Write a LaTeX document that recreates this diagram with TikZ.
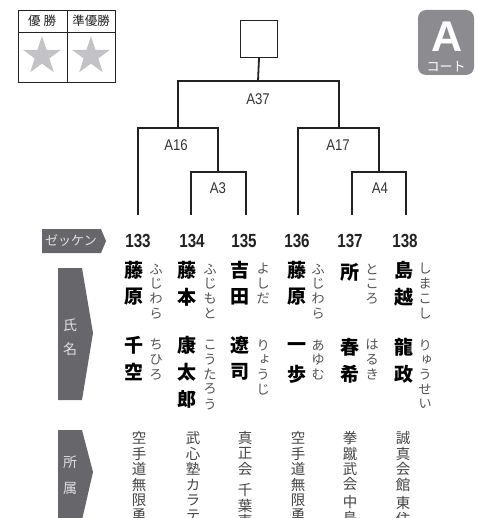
\documentclass[tikz,border=0pt]{standalone}
\usepackage{fontspec}
\setmainfont{Liberation Sans}
\newfontfamily\jpfont{Noto Sans CJK JP}
\newfontfamily\jpvert[RawFeature=+vert]{Noto Sans CJK JP}
\newfontfamily\numfont[FakeStretch=0.85]{Liberation Sans}
\newfontfamily\zekkenfont[FakeStretch=0.8]{Liberation Sans}
\usetikzlibrary{shapes.geometric}

\definecolor{lineblack}{HTML}{222222}
\definecolor{taggrey}{HTML}{67676B}
\definecolor{courtgrey}{HTML}{8C8C90}
\definecolor{stargrey}{HTML}{C3C3C7}
\definecolor{kanagrey}{HTML}{555555}
\definecolor{affgrey}{HTML}{444444}

\tikzset{
  bracket/.style={draw=lineblack,line width=1.8pt},
  matchlbl/.style={font=\numfont\fontsize{15.5}{15.5}\selectfont,text=black!80},
  zekken/.style={font=\zekkenfont\bfseries\fontsize{19}{19}\selectfont,text=lineblack},
  kanji/.style={font=\jpfont\bfseries\fontsize{19}{19}\selectfont,inner sep=0pt},
  kana/.style={font=\jpvert\fontsize{13.5}{13.5}\selectfont,text=kanagrey,inner sep=0pt},
  aff/.style={font=\jpvert\fontsize{14.5}{14.5}\selectfont,text=affgrey,inner sep=0pt},
  tagtext/.style={font=\jpfont\fontsize{14}{14}\selectfont,text=white!88!black},
  tagbox/.style={fill=taggrey,draw=none},
  legend/.style={font=\jpfont\fontsize{12.5}{12.5}\selectfont,text=lineblack}
}

% vertical column of characters: name, style, x, first y, pitch, list
\newcommand{\tate}[6]{%
  \foreach \ch [count=\i] in {#6}
    \node[#2] (#1-\i) at (#3,{#4+#5*(\i-1)}) {\ch};}

\begin{document}
\begin{tikzpicture}[x=1pt,y=-1pt]

\useasboundingbox (0,0) rectangle (477,518);

% Legend table
\draw[lineblack,line width=0.9pt] (18,10) rectangle (115,82);
\draw[lineblack,line width=0.9pt] (67,10) -- (67,82);
\draw[lineblack,line width=0.9pt] (18,32) -- (115,32);
\node[legend] (yusho) at (42,21) {優\hspace{3pt}勝};
\node[legend] (junyusho) at (91,21) {準優勝};
\node[star,star points=5,star point ratio=2.6,fill=stargrey,inner sep=0pt,minimum size=40] (star1) at (42,56) {};
\node[star,star points=5,star point ratio=2.6,fill=stargrey,inner sep=0pt,minimum size=40] (star2) at (91,56) {};

% Court badge
\node[fill=courtgrey,rounded corners=8pt,minimum width=56,minimum height=65] (court) at (446,42.5) {};
\node[font=\bfseries\fontsize{43}{43}\selectfont,text=white,inner sep=0pt] (courtA) at (447,36.5) {A};
\node[font=\jpfont\fontsize{13}{13}\selectfont,text=white,inner sep=0pt] (courtT) at (446,66.5) {コート};

% Winner box
\node[draw=lineblack,line width=1.4pt,minimum size=37,inner sep=0pt] (final) at (259,39) {};

% Bracket points
\coordinate (m37) at (258,81);
\coordinate (m16) at (178,128);
\coordinate (m17) at (339,128);
\coordinate (m3) at (218,172);
\coordinate (m4) at (379,172);
\coordinate (t133) at (138,215);
\coordinate (t134) at (191,215);
\coordinate (t135) at (246,215);
\coordinate (t136) at (298,215);
\coordinate (t137) at (352,215);
\coordinate (t138) at (406,215);

% Bracket lines
\draw[bracket] (final.south) -- (m37);
\draw[bracket] (m16) |- (m37) -| (m17);
\draw[bracket] (t133) |- (m16) -| (m3);
\draw[bracket] (t134) |- (m3) -| (t135);
\draw[bracket] (t136) |- (m17) -| (m4);
\draw[bracket] (t137) |- (m4) -| (t138);

% Match labels
\node[matchlbl] (a37) at (258,99) {A37};
\node[matchlbl] (a16) at (176,145) {A16};
\node[matchlbl] (a17) at (338,145) {A17};
\node[matchlbl] (a3) at (218,188) {A3};
\node[matchlbl] (a4) at (380,188) {A4};

% Zekken row
\draw[tagbox] (42,229) -- (101,229) -- (106,241) -- (101,253) -- (42,253) -- cycle;
\node[tagtext,font=\jpfont\fontsize{13}{13}\selectfont] (zekkenlbl) at (71,241) {ゼッケン};
\node[zekken] (z133) at (138,241) {133};
\node[zekken] (z134) at (192,241) {134};
\node[zekken] (z135) at (244,241) {135};
\node[zekken] (z136) at (297,241) {136};
\node[zekken] (z137) at (350,241) {137};
\node[zekken] (z138) at (405,241) {138};

% Name tag
\draw[tagbox] (58,268) -- (82,268) -- (93,333) -- (82,400) -- (58,400) -- cycle;
\node[tagtext] (shi) at (70,325) {氏};
\node[tagtext] (mei) at (70,349) {名};

% Names
\tate{n133}{kanji}{134}{270}{27}{藤,原}
\tate{g133}{kanji}{134}{345}{27}{千,空}
\tate{f133}{kana}{156}{269}{14.8}{ふ,じ,わ,ら}
\tate{h133}{kana}{156}{345}{14.8}{ち,ひ,ろ}

\tate{n134}{kanji}{187}{270}{27}{藤,本}
\tate{g134}{kanji}{187}{345}{27}{康,太,郎}
\tate{f134}{kana}{210}{269}{14.8}{ふ,じ,も,と}
\tate{h134}{kana}{210}{345}{14.8}{こ,う,た,ろ,う}

\tate{n135}{kanji}{240}{270}{27}{吉,田}
\tate{g135}{kanji}{240}{345}{27}{遼,司}
\tate{f135}{kana}{263}{269}{14.8}{よ,し,だ}
\tate{h135}{kana}{263}{345}{14.8}{り,ょ,う,じ}

\tate{n136}{kanji}{297}{270}{27}{藤,原}
\tate{g136}{kanji}{297}{347}{27}{一,歩}
\tate{f136}{kana}{318}{269}{14.8}{ふ,じ,わ,ら}
\tate{h136}{kana}{318}{345}{14.8}{あ,ゆ,む}

\tate{n137}{kanji}{350}{272}{27}{所}
\tate{g137}{kanji}{350}{347}{27}{春,希}
\tate{f137}{kana}{372}{269}{14.8}{と,こ,ろ}
\tate{h137}{kana}{372}{345}{14.8}{は,る,き}

\tate{n138}{kanji}{404}{270}{27}{島,越}
\tate{g138}{kanji}{404}{347}{27}{龍,政}
\tate{f138}{kana}{425}{269}{14.8}{し,ま,こ,し}
\tate{h138}{kana}{425}{345}{14.8}{り,ゅ,う,せ,い}

% Affiliation tag
\draw[tagbox] (58,430) -- (82,430) -- (93,472) -- (82,520) -- (58,520) -- cycle;
\node[tagtext] (sho) at (70,462) {所};
\node[tagtext] (zoku) at (70,488) {属};

% Affiliations (cut off at the bottom edge, as in the original)
\tate{s133}{aff}{139}{438}{15.5}{空,手,道,無,限,勇}
\tate{s134}{aff}{193}{438}{15.5}{武,心,塾,カ,ラ,テ}
\tate{s135}{aff}{245}{438}{15.5}{真,正,会}
\tate{t135}{aff}{245}{490}{15.5}{千,葉,東}
\tate{s136}{aff}{298}{438}{15.5}{空,手,道,無,限,勇}
\tate{s137}{aff}{350}{438}{15.5}{拳,蹴,武,会}
\tate{t137}{aff}{350}{502}{15.5}{中,島}
\tate{s138}{aff}{403}{438}{15.5}{誠,真,会,館}
\tate{t138}{aff}{403}{503}{15.5}{東,住}

\end{tikzpicture}
\end{document}
